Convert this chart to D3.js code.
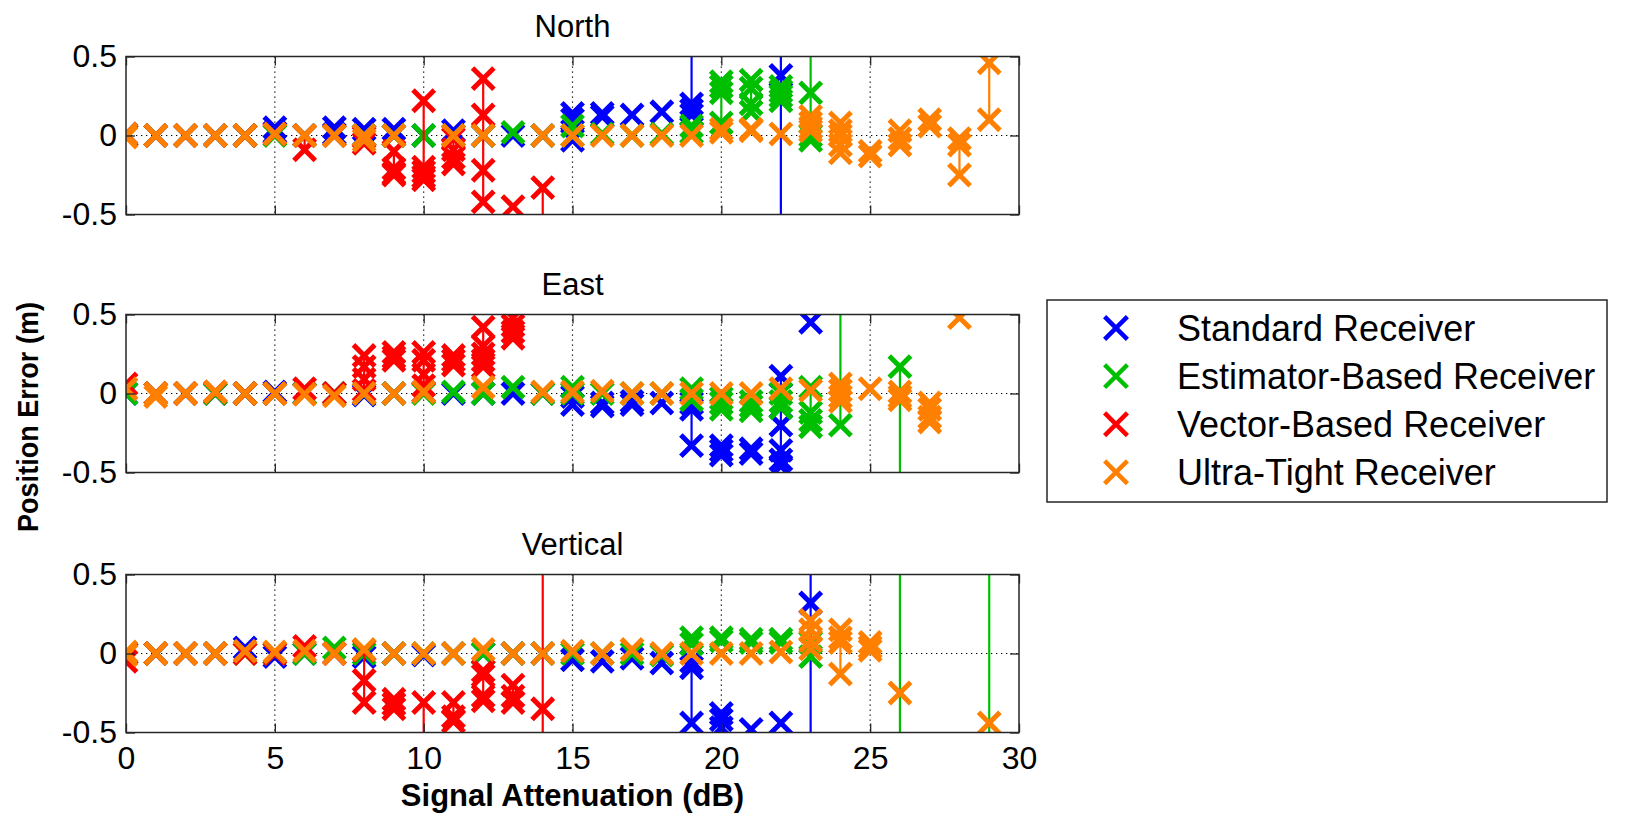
<!DOCTYPE html>
<html>
<head>
<meta charset="utf-8">
<script src="https://cdn.jsdelivr.net/npm/d3@7"></script>
<style>
body{margin:0;background:#fff;}
svg{display:block;font-family:"Liberation Sans",Arial,Helvetica,sans-serif;}
</style>
</head>
<body>
<svg id="chart" width="1641" height="813"></svg>
<script>
/////////////////////////////////////
///      DATA
/////////////////////////////////////
var xTicks = [0, 5, 10, 15, 20, 25, 30];
var yTicks = [-0.5, 0, 0.5];
var panelTitles = ["North", "East", "Vertical"];
var seriesNames = ["Standard Receiver", "Estimator-Based Receiver", "Vector-Based Receiver", "Ultra-Tight Receiver"];
var seriesColors = ["#0000ff", "#00bf00", "#ff0000", "#ff8000"];

// each row: [signal attenuation (dB), [position errors (m)]]
// values beyond +-0.5 are off the axes, only their connecting line shows
var northStandard = [[0,[0,0.01]],[1,[0]],[2,[0]],[3,[0]],[4,[0]],[5,[0.05,0.02]],[6,[0]],[7,[0.05,0.01]],
  [8,[0.04,0]],[9,[0.04,0]],[10,[0]],[11,[0.03,0]],[12,[0]],[13,[0]],[14,[0]],[15,[0.14,0.1,-0.03]],
  [16,[0.14,0.12]],[17,[0.13]],[18,[0.15]],[19,[0.8,0.2,0.16,0.13]],[22,[0.8,0.38,-0.8]]];
var northEstimator = [[0,[0]],[1,[0]],[2,[0]],[3,[0]],[4,[0]],[5,[0]],[6,[0]],[7,[0]],[8,[0]],[9,[0]],
  [10,[0]],[11,[0]],[12,[0]],[13,[0.02]],[14,[0]],[15,[0.06,0]],[16,[0.01]],[17,[0]],[18,[0.01]],
  [19,[0.06,0.02]],[20,[0.34,0.31,0.27,0.08]],[21,[0.35,0.3,0.2,0.15]],[22,[0.31,0.28,0.25,0.22]],
  [23,[0.8,0.27,0,-0.03]]];
var northVector = [[0,[0]],[1,[0]],[2,[0]],[3,[0]],[4,[0]],[5,[0.01]],[6,[0,-0.09]],[7,[0]],[8,[-0.01,-0.05]],
  [9,[-0.1,-0.21,-0.24,-0.25]],[10,[0.22,-0.2,-0.23,-0.26,-0.28]],[11,[-0.02,-0.09,-0.14,-0.18]],
  [12,[0.36,0.13,-0.22,-0.42]],[13,[-0.45]],[14,[-0.33,-0.8]]];
var northUltra = [[0,[0.01,-0.01]],[1,[0]],[2,[0]],[3,[0]],[4,[0]],[5,[0.01]],[6,[0]],[7,[0]],[8,[0,-0.03]],
  [9,[0]],[11,[0]],[12,[0]],[14,[0]],[15,[0]],[16,[0]],[17,[0]],[18,[0]],[19,[0]],[20,[0.04,0.02]],
  [21,[0.04,0.03]],[22,[0.01]],[23,[0.12,0.08,0.05,0.03]],[24,[0.08,0.03,0,-0.06,-0.11]],[25,[-0.1,-0.13]],
  [26,[0.03,-0.02,-0.06]],[27,[0.1,0.06]],[28,[-0.02,-0.06,-0.25]],[29,[0.46,0.1]]];

var eastStandard = [[0,[0]],[1,[0]],[2,[0]],[3,[0]],[4,[0]],[5,[0.01]],[6,[0]],[7,[0]],[8,[-0.01]],[9,[0]],
  [10,[0.01]],[11,[0]],[12,[0]],[13,[0]],[14,[0]],[15,[-0.02,-0.07]],[16,[-0.06,-0.08]],[17,[-0.05,-0.07]],
  [18,[-0.06]],[19,[-0.06,-0.1,-0.33]],[20,[-0.33,-0.36,-0.39]],[21,[-0.35,-0.38]],
  [22,[0.11,-0.2,-0.36,-0.42,-0.46]],[23,[0.45]]];
var eastEstimator = [[0,[0]],[1,[0]],[2,[0]],[3,[0]],[4,[0]],[5,[0]],[6,[0]],[7,[0]],[8,[0]],[9,[0]],
  [10,[0]],[11,[0.01]],[12,[0]],[13,[0.04]],[14,[0]],[15,[0.04,0]],[16,[0]],[17,[0]],[18,[0]],
  [19,[0.03,-0.04]],[20,[-0.03,-0.06,-0.1]],[21,[-0.05,-0.08,-0.11]],[22,[0,-0.05,-0.09]],
  [23,[0.04,-0.12,-0.17,-0.21]],[24,[0.8,-0.2]],[26,[0.17,-0.8]]];
var eastVector = [[0,[0.06]],[1,[0]],[2,[0]],[3,[0.01]],[4,[0]],[5,[0]],[6,[0.03]],[7,[0]],
  [8,[0.24,0.17,0.09,0.02]],[9,[0.26,0.23,0.21]],[10,[0.26,0.21,0.12,0.05]],[11,[0.24,0.21,0.18]],
  [12,[0.42,0.3,0.25,0.21,0.17]],[13,[0.48,0.43,0.39,0.35]]];
var eastUltra = [[0,[0.03]],[1,[0,-0.02]],[2,[0]],[3,[0.01]],[4,[0]],[5,[0]],[6,[-0.005]],[7,[-0.015]],
  [8,[0]],[9,[0]],[10,[0.01]],[12,[0.04]],[14,[0.01]],[15,[0.01]],[16,[0.015]],[17,[0]],[18,[0]],
  [19,[0]],[20,[0]],[21,[0]],[22,[0.03]],[23,[0.02]],[24,[0.06,0.02,-0.02,-0.05]],[25,[0.03]],
  [26,[0.01,-0.02,-0.04]],[27,[-0.06,-0.1,-0.15,-0.18]],[28,[0.48]]];

var verticalStandard = [[0,[0]],[1,[0]],[2,[0]],[3,[0]],[4,[0.035]],[5,[-0.02]],[6,[0]],[7,[0]],[8,[-0.02]],
  [9,[0]],[10,[-0.01]],[11,[0]],[12,[0]],[13,[0]],[14,[0]],[15,[-0.04]],[16,[-0.05]],[17,[-0.03]],
  [18,[-0.06]],[19,[-0.05,-0.09,-0.44]],[20,[-0.38,-0.42,-0.47]],[21,[-0.48]],[22,[-0.44]],
  [23,[0.8,0.32,-0.8]]];
var verticalEstimator = [[0,[0]],[1,[0]],[2,[0]],[3,[0]],[4,[0]],[5,[0]],[6,[0]],[7,[0.035]],[8,[0]],[9,[0]],
  [10,[0]],[11,[0]],[12,[0]],[13,[0]],[14,[0]],[15,[0]],[16,[0]],[17,[0]],[18,[-0.01]],[19,[0.1,0.06]],
  [20,[0.1,0.08]],[21,[0.09,0.07]],[22,[0.09,0.07]],[23,[0.07,-0.02]],[26,[0.8,-0.8]],[29,[0.8,-0.8]]];
var verticalVector = [[0,[0,-0.05]],[1,[0]],[2,[0]],[3,[0]],[4,[0]],[5,[0]],[6,[0.045]],[7,[0]],
  [8,[0.02,-0.17,-0.31]],[9,[-0.29,-0.32,-0.35]],[10,[-0.31,-0.8]],[11,[-0.31,-0.4,-0.43]],
  [12,[-0.11,-0.14,-0.27,-0.3]],[13,[-0.2,-0.27,-0.31]],[14,[0.8,-0.35,-0.8]]];
var verticalUltra = [[0,[0.01,-0.01]],[1,[0]],[2,[0]],[3,[0]],[4,[0.015]],[5,[0.01]],[6,[0.015]],[7,[0]],
  [8,[0.025]],[9,[0]],[10,[0]],[11,[0]],[12,[0.025]],[13,[0]],[14,[0]],[15,[0.015]],[16,[0]],[17,[0.025]],
  [18,[0]],[19,[0]],[20,[0]],[21,[0]],[22,[0.01]],[23,[0.21,0.15,0.08,0.03]],[24,[0.15,0.1,0.07,-0.13]],
  [25,[0.07,0.04,0.02]],[26,[-0.25]],[29,[-0.44]]];

var panelSeries = [
  [northStandard, northEstimator, northVector, northUltra],
  [eastStandard, eastEstimator, eastVector, eastUltra],
  [verticalStandard, verticalEstimator, verticalVector, verticalUltra]
];

/////////////////////////////////////
///      LAYOUT
/////////////////////////////////////
var svg = d3.select("#chart");
var plotLeft = 126, plotWidth = 893, plotHeight = 158;
var panelTops = [56.5, 314.5, 574.5];
var axisColor = "#262626";

var x = d3.scaleLinear().domain([0, 30]).range([0, plotWidth]);
var y = d3.scaleLinear().domain([-0.5, 0.5]).range([plotHeight, 0]);
var markerPath = d3.symbol().type(d3.symbolX).size(300)();

function styleAxis(sel){
  sel.select(".domain").remove();
  sel.selectAll(".tick line").attr("stroke", axisColor).attr("stroke-width", 1.3);
  sel.selectAll(".tick text").attr("fill", "#000").attr("font-size", "32px")
     .attr("font-family", "Liberation Sans, Arial, sans-serif");
}

panelSeries.forEach(function(series, i){
  var g = svg.append("g").attr("transform", "translate(" + plotLeft + "," + panelTops[i] + ")");

  g.append("clipPath").attr("id", "clip" + i)
    .append("rect").attr("width", plotWidth).attr("height", plotHeight);

  // dotted grid
  var grid = g.append("g").attr("stroke", "#000").attr("stroke-width", 1.2).attr("stroke-dasharray", "1.3,3.7");
  grid.selectAll("line.vx").data(xTicks.slice(1, -1)).join("line").attr("class", "vx")
    .attr("x1", function(d){ return x(d); }).attr("x2", function(d){ return x(d); })
    .attr("y1", 0).attr("y2", plotHeight);
  grid.selectAll("line.hy").data([0]).join("line").attr("class", "hy")
    .attr("x1", 0).attr("x2", plotWidth)
    .attr("y1", function(d){ return y(d); }).attr("y2", function(d){ return y(d); });

  var plot = g.append("g").attr("clip-path", "url(#clip" + i + ")");
  series.forEach(function(rows, s){
    var sg = plot.append("g").attr("stroke", seriesColors[s]).attr("fill", "none");
    sg.selectAll("line")
      .data(rows.filter(function(r){ return r[1].length > 1; }))
      .join("line")
      .attr("x1", function(r){ return x(r[0]); })
      .attr("x2", function(r){ return x(r[0]); })
      .attr("y1", function(r){ return y(d3.max(r[1])); })
      .attr("y2", function(r){ return y(d3.min(r[1])); })
      .attr("stroke-width", 2.2);
    sg.selectAll("path")
      .data(rows.flatMap(function(r){ return r[1].map(function(v){ return [r[0], v]; }); }))
      .join("path")
      .attr("d", markerPath)
      .attr("transform", function(d){ return "translate(" + x(d[0]) + "," + y(d[1]) + ")"; })
      .attr("stroke-width", 5);
  });

  // axes, ticks pointing inward like matlab
  var bottom = d3.axisBottom(x).tickValues(xTicks).tickSizeInner(-9).tickSizeOuter(0).tickPadding(14);
  if (i < panelSeries.length - 1) bottom.tickFormat("");
  g.append("g").attr("transform", "translate(0," + plotHeight + ")").call(bottom).call(styleAxis);
  g.append("g").call(d3.axisTop(x).tickValues(xTicks).tickSizeInner(-9).tickSizeOuter(0).tickFormat("")).call(styleAxis);
  g.append("g").call(d3.axisLeft(y).tickValues(yTicks).tickSizeInner(-9).tickSizeOuter(0).tickPadding(9)
    .tickFormat(function(d){ return String(d); })).call(styleAxis);
  g.append("g").attr("transform", "translate(" + plotWidth + ",0)")
    .call(d3.axisRight(y).tickValues(yTicks).tickSizeInner(-9).tickSizeOuter(0).tickFormat("")).call(styleAxis);

  g.append("rect").attr("width", plotWidth).attr("height", plotHeight)
    .attr("fill", "none").attr("stroke", axisColor).attr("stroke-width", 1.5);

  g.append("text").attr("x", plotWidth / 2).attr("y", -20)
    .attr("text-anchor", "middle").attr("font-size", "31px").text(panelTitles[i]);
});

// axis labels
svg.append("text")
  .attr("x", plotLeft + plotWidth / 2).attr("y", 806)
  .attr("text-anchor", "middle").attr("font-size", "31px").attr("font-weight", "bold")
  .text("Signal Attenuation (dB)");
svg.append("text")
  .attr("transform", "translate(38,417) rotate(-90)")
  .attr("text-anchor", "middle").attr("font-size", "29px").attr("font-weight", "bold")
  .attr("textLength", 230).attr("lengthAdjust", "spacingAndGlyphs")
  .text("Position Error (m)");

/////////////////////////////////////
///      LEGEND
/////////////////////////////////////
var legend = svg.append("g").attr("transform", "translate(1047,300)");
legend.append("rect").attr("width", 560).attr("height", 202)
  .attr("fill", "#fff").attr("stroke", axisColor).attr("stroke-width", 1.5);
var items = legend.selectAll("g.item").data(seriesNames).join("g").attr("class", "item")
  .attr("transform", function(d, k){ return "translate(0," + (28 + k * 48.1) + ")"; });
items.append("path").attr("d", d3.symbol().type(d3.symbolX).size(340)())
  .attr("transform", "translate(69,0)")
  .attr("fill", "none").attr("stroke-width", 4.5)
  .attr("stroke", function(d, k){ return seriesColors[k]; });
items.append("text").attr("x", 130).attr("dy", "0.35em")
  .attr("font-size", "36px").text(function(d){ return d; });
</script>
</body>
</html>
